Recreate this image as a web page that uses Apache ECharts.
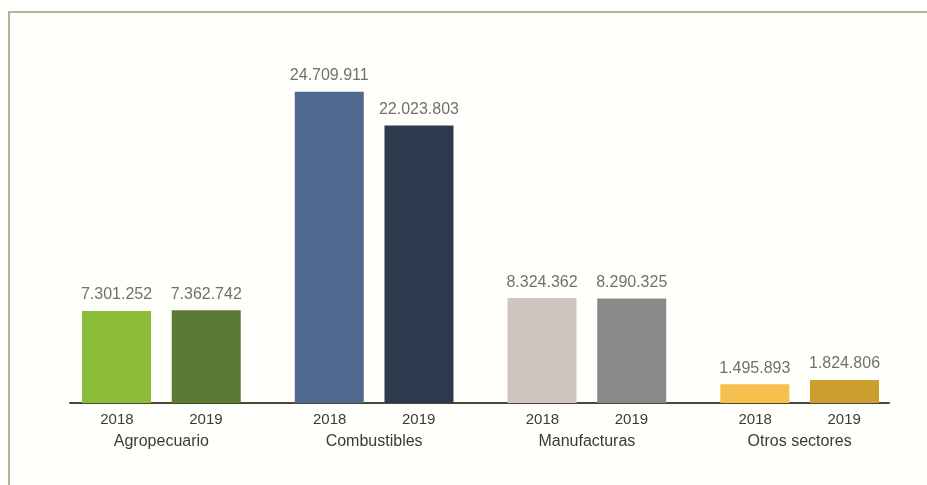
<!DOCTYPE html>
<html>
<head>
<meta charset="utf-8">
<title>Exportaciones por sector 2018-2019</title>
<script src="https://cdn.jsdelivr.net/npm/echarts@6/dist/echarts.min.js"></script>
<style>
  html, body { margin: 0; padding: 0; background: #fffffb; }
  #chart { width: 927px; height: 485px; }
</style>
</head>
<body>
<div id="chart"></div>
<script>
// Sectors and yearly values
const categories = ['Agropecuario', 'Combustibles', 'Manufacturas', 'Otros sectores'];
const years = ['2018', '2019'];
const values2018 = [7301252, 24709911, 8324362, 1495893];
const values2019 = [7362742, 22023803, 8290325, 1824806];

// One colour per bar: 2018 shade and 2019 shade of each sector
const colors2018 = ['#8cbd3a', '#50698f', '#d0c4c1', '#f5c04e'];
const colors2019 = ['#5a7a33', '#2d3a4d', '#8a8a8a', '#cc9e2e'];

function fmt(v) {
  return String(v).replace(/\B(?=(\d{3})+(?!\d))/g, '.');
}

function makeSeries(name, values, colors) {
  return {
    name: name,
    type: 'bar',
    xAxisIndex: 0,
    yAxisIndex: 0,
    barWidth: 69,
    barGap: '30%',
    data: values.map((v, i) => ({ value: v, itemStyle: { color: colors[i] } })),
    label: {
      show: true,
      position: 'top',
      distance: 8,
      color: '#707070',
      fontFamily: 'Liberation Sans',
      fontSize: 16,
      formatter: p => fmt(p.value)
    }
  };
}

const chart = echarts.init(document.getElementById('chart'), null, { renderer: 'canvas' });

chart.setOption({
  animation: false,
  backgroundColor: '#fffffb',
  graphic: [{
    type: 'rect',
    shape: { x: 9, y: 12, width: 1000, height: 1000 },
    style: { fill: 'none', stroke: '#b3b597', lineWidth: 2 },
    silent: true
  }],
  grid: [
    { left: 55, right: 21, top: 25, bottom: 82 },
    { left: 70, right: 38, top: 25, bottom: 82 }
  ],
  xAxis: [
    {
      type: 'category',
      gridIndex: 0,
      data: categories,
      axisLine: { show: false },
      axisTick: { show: false },
      axisLabel: {
        interval: 0,
        margin: 6,
        color: '#3a3a3a',
        fontFamily: 'Liberation Sans',
        formatter: c => '{y|' + years[0] + '}{y|' + years[1] + '}\n{c|' + c + '}',
        rich: {
          y: { width: 89, align: 'center', fontSize: 15, lineHeight: 21, color: '#3a3a3a', fontFamily: 'Liberation Sans' },
          c: { fontSize: 16, lineHeight: 24, color: '#3a3a3a', fontFamily: 'Liberation Sans' }
        }
      }
    },
    {
      // baseline under the bars
      type: 'category',
      gridIndex: 1,
      data: [''],
      axisLine: { show: true, lineStyle: { color: '#4d4632', width: 2 } },
      axisTick: { show: false },
      axisLabel: { show: false }
    }
  ],
  yAxis: [
    { type: 'value', gridIndex: 0, min: 0, max: 30000000, show: false, splitLine: { show: false } },
    { type: 'value', gridIndex: 1, min: 0, max: 1, show: false, splitLine: { show: false } }
  ],
  series: [
    makeSeries(years[0], values2018, colors2018),
    makeSeries(years[1], values2019, colors2019)
  ]
});
</script>
</body>
</html>
